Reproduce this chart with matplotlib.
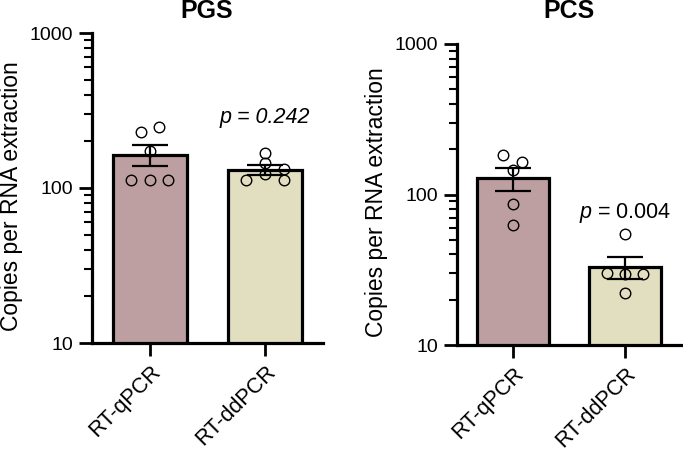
import matplotlib
matplotlib.use("Agg")
import matplotlib.pyplot as plt
from matplotlib.ticker import FixedLocator, FixedFormatter, NullFormatter
import numpy as np

plt.rcParams['font.family'] = ['Liberation Sans', 'DejaVu Sans']
plt.rcParams['mathtext.fontset'] = 'custom'
plt.rcParams['mathtext.rm'] = 'Liberation Sans'
plt.rcParams['mathtext.it'] = 'Liberation Sans:italic'

categories = ["RT-qPCR", "RT-ddPCR"]
titles = ["PGS", "PCS"]

# PGS
pgs_means = [164, 131]
pgs_sem = [26, 9]
pgs_qpcr_points = [231, 248, 174, 113, 113, 113]
pgs_qpcr_jitter = [-0.08, 0.08, 0.0, -0.165, 0.0, 0.16]
pgs_ddpcr_points = [168, 146, 123, 113, 132, 113]
pgs_ddpcr_jitter = [0.0, 0.0, 0.0, -0.165, 0.16, 0.16]

# PCS
pcs_means = [128, 33]
pcs_sem = [23, 5.5]
pcs_qpcr_points = [183, 165, 146, 87, 63]
pcs_qpcr_jitter = [-0.09, 0.08, 0.0, 0.0, 0.0]
pcs_ddpcr_points = [55, 30, 29.6, 29.6, 22.3]
pcs_ddpcr_jitter = [0.0, -0.16, 0.0, 0.16, 0.0]

p_texts = ["p = 0.242", "$\\it{p}$ = 0.004"]
p_styles = ["italic", "normal"]

bar_colors = ["#BE9FA1", "#E2DFC0"]

W, H = 683, 454
fig = plt.figure(figsize=(W / 100, H / 100), dpi=100)

ax_px = [(92, 323, 33, 343), (457, 681, 44, 345)]
label_px = [(23, 196), (388, 202)]
title_px = [(207, 18), (569, 18)]
ptext_px = [(265, 118), (625, 213)]

panels = [
    (pgs_means, pgs_sem, [pgs_qpcr_points, pgs_ddpcr_points], [pgs_qpcr_jitter, pgs_ddpcr_jitter]),
    (pcs_means, pcs_sem, [pcs_qpcr_points, pcs_ddpcr_points], [pcs_qpcr_jitter, pcs_ddpcr_jitter]),
]

for i, (means, sem, pts, jit) in enumerate(panels):
    x0, x1, yt, yb = ax_px[i]
    ax = fig.add_axes([x0 / W, (H - yb) / H, (x1 - x0) / W, (yb - yt) / H])
    x = np.arange(len(categories))
    ax.bar(x, means, width=0.645, color=bar_colors, edgecolor="black", linewidth=2.3, zorder=2)
    ax.errorbar(x, means, yerr=sem, fmt="none", ecolor="black", elinewidth=1.6,
                capsize=13.3, capthick=1.6, zorder=4)
    for j in range(len(categories)):
        ax.plot(x[j] + np.array(jit[j]), pts[j], linestyle="none", marker="o",
                markersize=7.6, markerfacecolor="none", markeredgecolor="black",
                markeredgewidth=1.0, zorder=5)
    ax.set_yscale("log")
    ax.set_ylim(10, 1000)
    ax.set_xlim(-0.5, 1.5)
    ax.yaxis.set_major_locator(FixedLocator([10, 100, 1000]))
    ax.yaxis.set_major_formatter(FixedFormatter(["10", "100", "1000"]))
    minors = [m * d for d in (10, 100) for m in range(2, 10)]
    ax.yaxis.set_minor_locator(FixedLocator(minors))
    ax.yaxis.set_minor_formatter(NullFormatter())
    ax.set_xticks(x)
    ax.set_xticklabels(categories, rotation=45, ha="right", va="top",
                       rotation_mode="anchor", fontsize=15.5)
    for s in ("top", "right"):
        ax.spines[s].set_visible(False)
    for s in ("left", "bottom"):
        ax.spines[s].set_linewidth(2.3)
    ax.tick_params(axis="y", which="major", length=9.5, width=2.0, labelsize=14, pad=4)
    ax.tick_params(axis="y", which="minor", length=5.8, width=1.5)
    ax.tick_params(axis="x", which="major", length=9.5, width=2.0, pad=4)
    ax.set_ylabel("Copies per RNA extraction", fontsize=16.5)
    lx, ly = label_px[i]
    ax.yaxis.set_label_coords((lx - x0) / (x1 - x0), (yb - ly) / (yb - yt))
    tx, ty = title_px[i]
    fig.text(tx / W, (H - ty) / H, titles[i], ha="center", va="baseline",
             fontsize=18, fontweight="bold")
    px, py = ptext_px[i]
    fig.text(px / W, (H - py) / H, p_texts[i], ha="center", va="center",
             fontsize=15.5, style=p_styles[i])

fig.savefig("out.png", dpi=100)
